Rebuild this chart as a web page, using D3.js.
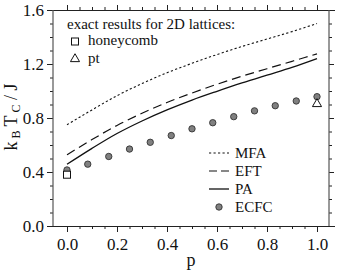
<!DOCTYPE html>
<html><head><meta charset="utf-8">
<script src="https://cdn.jsdelivr.net/npm/d3@7"></script>
<style>
body{margin:0;background:#fff;}
</style></head>
<body>
<script>
// ---- data ----
const pGrid = [0,0.1,0.2,0.3,0.4,0.5,0.6,0.7,0.8,0.9,1.0];
const mfa = [0.75,0.86,0.965,1.055,1.135,1.205,1.27,1.33,1.385,1.44,1.5];
const eft = [0.527,0.64,0.745,0.835,0.915,0.985,1.05,1.11,1.165,1.22,1.275];
const pa  = [0.457,0.575,0.685,0.778,0.86,0.933,0.998,1.06,1.118,1.175,1.24];
const ecfcP = [0,0.083,0.167,0.25,0.333,0.417,0.5,0.583,0.667,0.75,0.833,0.917,1.0];
const ecfcV = [0.415,0.458,0.515,0.57,0.62,0.67,0.72,0.765,0.81,0.853,0.891,0.926,0.958];
const honeycomb = [{p:0, v:0.38}];
const pt = [{p:1, v:0.91}];
const xMajor = [0,0.2,0.4,0.6,0.8,1.0];
const xMinor = [0.05,0.1,0.15,0.25,0.3,0.35,0.45,0.5,0.55,0.65,0.7,0.75,0.85,0.9,0.95];
const yMajor = [0.0,0.4,0.8,1.2,1.6];
const yMinor = [0.1,0.2,0.3,0.5,0.6,0.7,0.9,1.0,1.1,1.3,1.4,1.5];
const legendItems = ["MFA","EFT","PA","ECFC"];

const FONT = '"Liberation Serif"';
const W = 337, H = 273;
const svg = d3.select("body").append("svg").attr("width",W).attr("height",H);
const x = d3.scaleLinear().domain([0,1]).range([67,317]);
const y = d3.scaleLinear().domain([0,1.6]).range([226,10]);
const xL = 53, xR = 329, yB = 226, yT = 10;
const fmt = d3.format(".1f");

function styleAxis(g){
  g.attr("font-family",null).attr("font-size",null);
  g.select(".domain").remove();
  g.selectAll(".tick line").attr("stroke","#222").attr("stroke-width",1);
  g.selectAll("text").attr("font-size",17).style("font-family",FONT).attr("fill","#111");
}
// bottom
svg.append("g").attr("transform",`translate(0,${yB})`)
  .call(d3.axisBottom(x).tickValues(xMajor).tickSize(6).tickPadding(6).tickFormat(fmt))
  .call(styleAxis);
svg.append("g").attr("transform",`translate(0,${yB})`)
  .call(d3.axisBottom(x).tickValues(xMinor).tickSize(3).tickFormat(""))
  .call(styleAxis);
// top
svg.append("g").attr("transform",`translate(0,${yT})`)
  .call(d3.axisTop(x).tickValues(xMajor).tickSize(5).tickFormat(""))
  .call(styleAxis);
svg.append("g").attr("transform",`translate(0,${yT})`)
  .call(d3.axisTop(x).tickValues(xMinor).tickSize(3).tickFormat(""))
  .call(styleAxis);
// left
svg.append("g").attr("transform",`translate(${xL},0)`)
  .call(d3.axisLeft(y).tickValues(yMajor).tickSize(6).tickPadding(3).tickFormat(fmt))
  .call(styleAxis);
svg.append("g").attr("transform",`translate(${xL},0)`)
  .call(d3.axisLeft(y).tickValues(yMinor).tickSize(3).tickFormat(""))
  .call(styleAxis);
// right
svg.append("g").attr("transform",`translate(${xR},0)`)
  .call(d3.axisRight(y).tickValues(yMajor).tickSize(5).tickFormat(""))
  .call(styleAxis);
svg.append("g").attr("transform",`translate(${xR},0)`)
  .call(d3.axisRight(y).tickValues(yMinor).tickSize(3).tickFormat(""))
  .call(styleAxis);

// frame lines
svg.append("line").attr("x1",xL-6).attr("x2",xR+6).attr("y1",yB+0.5).attr("y2",yB+0.5).attr("stroke","#222");
svg.append("line").attr("x1",xL-6).attr("x2",xR+6).attr("y1",yT+0.5).attr("y2",yT+0.5).attr("stroke","#222");
svg.append("line").attr("x1",xL).attr("x2",xL).attr("y1",yT).attr("y2",yB).attr("stroke","#555").attr("stroke-width",1.2);
svg.append("line").attr("x1",xR).attr("x2",xR).attr("y1",yT).attr("y2",yB).attr("stroke","#555").attr("stroke-width",1.2);

// curves
const line = d3.line().x((d,i)=>x(pGrid[i])).y(d=>y(d)).curve(d3.curveMonotoneX);
svg.append("path").attr("d",line(mfa)).attr("fill","none").attr("stroke","#111").attr("stroke-width",1.1).attr("stroke-dasharray","2.2 2.3");
svg.append("path").attr("d",line(eft)).attr("fill","none").attr("stroke","#111").attr("stroke-width",1.2).attr("stroke-dasharray","9 5");
svg.append("path").attr("d",line(pa)).attr("fill","none").attr("stroke","#111").attr("stroke-width",1.3);

// ECFC dots
svg.append("g").selectAll("circle").data(ecfcV).join("circle")
  .attr("cx",(d,i)=>x(ecfcP[i])).attr("cy",d=>y(d)).attr("r",3.2)
  .attr("fill","#808080").attr("stroke","#333").attr("stroke-width",0.9);

// exact markers
const sq = 7;
svg.append("g").selectAll("rect").data(honeycomb).join("rect")
  .attr("x",d=>x(d.p)-sq/2).attr("y",d=>y(d.v)-sq/2).attr("width",sq).attr("height",sq)
  .attr("fill","#fff").attr("stroke","#111").attr("stroke-width",1);
const tri = d3.symbol().type(d3.symbolTriangle).size(36);
svg.append("g").selectAll("path").data(pt).join("path")
  .attr("transform",d=>`translate(${x(d.p)},${y(d.v)+0.8})`).attr("d",tri())
  .attr("fill","#fff").attr("stroke","#111").attr("stroke-width",1);

function txt(xx,yy,size,s){
  return svg.append("text").attr("x",xx).attr("y",yy).attr("font-size",size)
    .style("font-family",FONT).attr("fill","#111").text(s);
}
// top-left legend
txt(67,29,15,"exact results for 2D lattices:");
svg.append("rect").attr("x",75-3.5).attr("y",41.5-3.5).attr("width",7).attr("height",7).attr("fill","#fff").attr("stroke","#111");
txt(88,45,15,"honeycomb");
svg.append("path").attr("transform","translate(75,59)").attr("d",tri()).attr("fill","#fff").attr("stroke","#111");
txt(88,62.5,15,"pt");

// bottom-right legend
const legY = [158,176,194,212];
const dashes = ["2.2 2.3","8 4",null];
legendItems.forEach((t,i)=>{
  const yy = legY[i]-5;
  if(i<3){
    const l = svg.append("line").attr("x1",209).attr("x2",229).attr("y1",yy).attr("y2",yy)
      .attr("stroke","#111").attr("stroke-width",i===2?1.3:1.1);
    if(dashes[i]) l.attr("stroke-dasharray",dashes[i]);
  } else {
    svg.append("circle").attr("cx",219).attr("cy",yy).attr("r",3.2).attr("fill","#808080").attr("stroke","#333").attr("stroke-width",0.9);
  }
  txt(235,legY[i],15,t);
});

// axis titles
txt(191,266,18,"p").attr("text-anchor","middle");
const yt = svg.append("text").attr("transform","translate(17,117) rotate(-90)").attr("text-anchor","middle")
  .attr("font-size",18).style("font-family",FONT).attr("fill","#111");
yt.append("tspan").text("k");
yt.append("tspan").attr("font-size",12).attr("dy",3).text(" B");
yt.append("tspan").attr("dy",-3).text(" T");
yt.append("tspan").attr("font-size",12).attr("dy",3).text(" C");
yt.append("tspan").attr("dy",-3).text(" / J");
</script>
</body></html>
